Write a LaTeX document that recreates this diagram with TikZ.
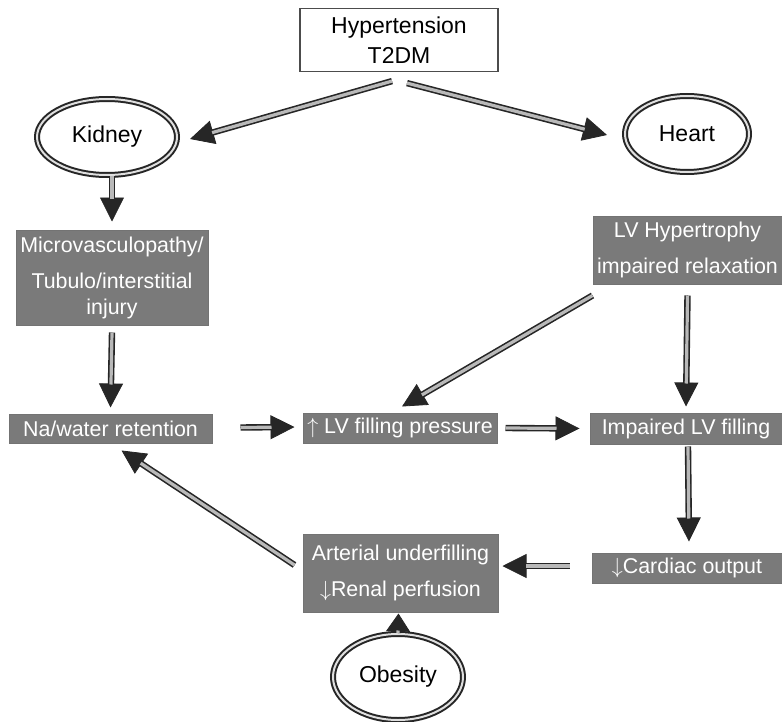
\documentclass[tikz,border=0pt]{standalone}
\usepackage{fontspec}
\setmainfont{Liberation Sans}
\usetikzlibrary{shapes.geometric, arrows.meta, calc}

\definecolor{boxgray}{RGB}{122,122,122}

\tikzset{
  organ/.style={ellipse, draw=black!85, line width=1pt, double=gray!25, double distance=1pt, fill=white, inner sep=0pt, font=\fontsize{11.5}{14}\selectfont},
  effect/.style={rectangle, draw=black!55, line width=0.5pt, fill=boxgray, text=white, inner sep=1pt, align=center, font=\fontsize{10.7}{13}\selectfont},
  flowtip/.style={-{Triangle[length=#1,width=12pt]}, line width=0.4pt, draw=black!85},
  flowshaft/.style={draw=black!85, double=gray!55, line width=0.8pt, double distance=1.6pt, shorten >=#1-0.5pt}
}

% hollow shaft with a solid head
\newcommand{\flowarrow}[3][12pt]{%
  \draw[flowtip=#1] #2 -- #3;
  \draw[flowshaft=#1] #2 -- #3;}

\begin{document}
\begin{tikzpicture}[x=0.5pt, y=-0.5pt]
\useasboundingbox (0,0) rectangle (782,722);

% causes and organs
\node[draw=black!70, line width=0.6pt, fill=white, minimum width=99pt, minimum height=31.5pt, align=center, font=\fontsize{11.5}{15}\selectfont] (risk) at (399,40) {Hypertension\\T2DM};
\node[organ, minimum width=70pt, minimum height=38pt] (kidney) at (107,137) {Kidney};
\node[organ, minimum width=62pt, minimum height=38pt] (heart) at (687,134) {Heart};
\node[organ, minimum width=65pt, minimum height=43pt] (obesity) at (398,677) {Obesity};

% effects
\node[effect, minimum width=96pt, minimum height=47.5pt] (micro) at (112,277.5) {Microvasculopathy/\\[5pt]Tubulo/interstitial\\injury};
\node[effect, minimum width=94.5pt, minimum height=34pt] (lvh) at (687.5,250) {LV Hypertrophy\\[5pt]impaired relaxation};
\node[effect, minimum width=101.5pt, minimum height=14.5pt] (na) at (110.5,428.5) {Na/water retention};
\node[effect, minimum width=97pt, minimum height=15pt] (lvfill) at (400,428) {$\uparrow$ LV filling pressure};
\node[effect, minimum width=96pt, minimum height=15.5pt] (impfill) at (686,428.5) {Impaired LV filling};
\node[effect, minimum width=95pt, minimum height=15pt] (cardiac) at (687,568) {$\downarrow$Cardiac output};
\node[effect, minimum width=97.5pt, minimum height=39pt] (arterial) at (400.5,573) {Arterial underfilling\\[5pt]$\downarrow$Renal perfusion};

% connections
\flowarrow{($(risk.south)+(-7,9)$)}{($(kidney.east)+(12,2)$)}
\flowarrow{($(risk.south)+(8,11)$)}{($(heart.west)+(-17,1)$)}
\flowarrow{(micro.north |- kidney.south)}{($(micro.north)+(0,-8)$)}
\flowarrow{($(micro.south)+(0,7)$)}{($(na.north)+(0,-6)$)}
\flowarrow{($(lvh.south west)+(0,11)$)}{($(lvfill.north)+(2,-6)$)}
\flowarrow{($(lvh.south)+(0,11)$)}{($(impfill.north)+(0,-6)$)}
\flowarrow{($(na.east)+(28,-1)$)}{($(lvfill.west)+(-8,-1)$)}
\flowarrow{($(lvfill.east)+(8,0)$)}{($(impfill.west)+(-10,0)$)}
\flowarrow{($(impfill.south)+(2,2)$)}{($(cardiac.north)+(2,-11)$)}
\flowarrow{($(cardiac.west)+(-22,-2)$)}{($(arterial.east)+(4,-7)$)}
\flowarrow{($(arterial.west)+(-8,-8)$)}{($(na.south)+(11,7)$)}
\flowarrow[9pt]{(obesity.north)}{($(arterial.south)+(-2,1)$)}
\end{tikzpicture}
\end{document}
